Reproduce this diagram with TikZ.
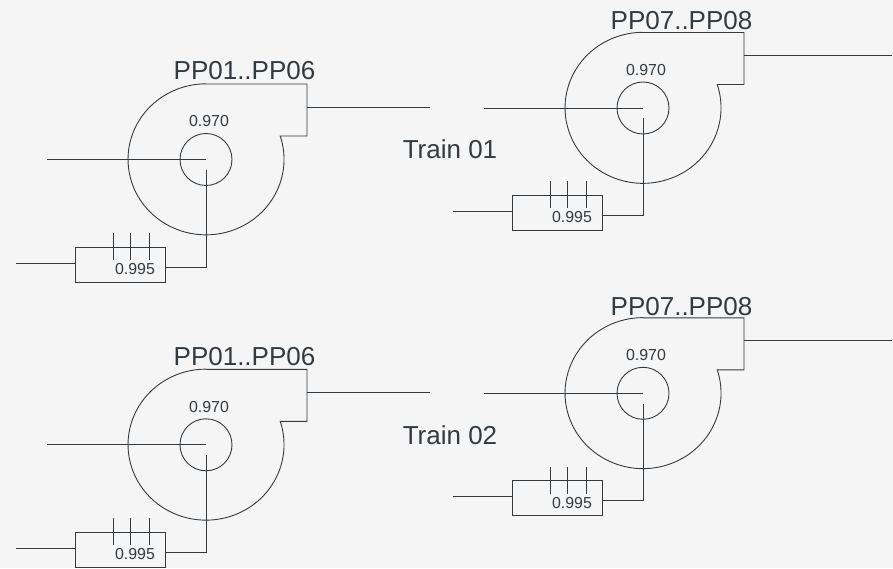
\documentclass[tikz,border=0pt]{standalone}
\usepackage{fontspec}
\setmainfont{Liberation Sans}
\usepackage{xcolor}
\definecolor{paper}{HTML}{F5F5F5}
\definecolor{ink}{HTML}{333A40}
\tikzset{
    pipe/.style={draw=ink, line width=.9pt},
    eye/.style={circle, draw=ink, line width=.9pt, minimum size=52pt, inner sep=0pt},
    unitbox/.style={rectangle, draw=ink, line width=.9pt, minimum width=90pt, minimum height=35pt, inner sep=0pt},
    tagtext/.style={text=ink, font=\fontsize{26}{28}\selectfont, inner sep=0pt},
    valtext/.style={text=ink, font=\fontsize{15.9}{18}\selectfont, inner sep=0pt},
}

\begin{document}
\begin{tikzpicture}[x=1pt, y=1pt]
            \fill[paper] (0,0) rectangle (893,568);
            \useasboundingbox (0,0) rectangle (893,568);
            % train 01, left
            \node[eye] (hubA) at (206,408.5) {};
            \node[unitbox] (boxA) at (120,303.5) {};
            \node[tagtext] (tagA) at (244.5,497) {PP01..PP06};
            \node[valtext] (effA) at (209,447) {0.970};
            \node[valtext] (sealA) at (135,299) {0.995};
            \draw[pipe] (hubA.center) ++(0,75.5) -- ++(101,0) -- ++(0,-52) -- ++(-26.8,0) arc [start angle=18, end angle=-270, x radius=78, y radius=75.5];
            \draw[pipe] (hubA.center) -- ++(-159,0);
            \draw[pipe] (hubA.center) ++(101,52.5) -- ++(123,0);
            \draw[pipe] (boxA.east) ++(0,-2.5) -- ++(41,0) -- ++(0,97);
            \draw[pipe] (boxA.west) ++(0,1.5) -- ++(-59,0);
            \draw[pipe] (boxA.center) ++(-7,31.5) -- ++(0,-27) ++(17.5,27) -- ++(0,-27) ++(18.5,27) -- ++(0,-27);
            % train 01, right
            \node[eye] (hubB) at (643,460) {};
            \node[unitbox] (boxB) at (557,355) {};
            \node[tagtext] (tagB) at (681.5,547) {PP07..PP08};
            \node[valtext] (effB) at (646,498) {0.970};
            \node[valtext] (sealB) at (572,350.5) {0.995};
            \draw[pipe] (hubB.center) ++(0,75.5) -- ++(101,0) -- ++(0,-52) -- ++(-26.8,0) arc [start angle=18, end angle=-270, x radius=78, y radius=75.5];
            \draw[pipe] (hubB.center) -- ++(-159,0);
            \draw[pipe] (hubB.center) ++(101,52.5) -- ++(148,0);
            \draw[pipe] (boxB.east) ++(0,-2.5) -- ++(41,0) -- ++(0,97);
            \draw[pipe] (boxB.west) ++(0,1.5) -- ++(-59,0);
            \draw[pipe] (boxB.center) ++(-7,31.5) -- ++(0,-27) ++(17.5,27) -- ++(0,-27) ++(18.5,27) -- ++(0,-27);
            % train 02, left
            \node[eye] (hubC) at (206,123.2) {};
            \node[unitbox] (boxC) at (120,18.2) {};
            \node[tagtext] (tagC) at (244.5,211) {PP01..PP06};
            \node[valtext] (effC) at (209,161) {0.970};
            \node[valtext] (sealC) at (135,13.7) {0.995};
            \draw[pipe] (hubC.center) ++(0,75.5) -- ++(101,0) -- ++(0,-52) -- ++(-26.8,0) arc [start angle=18, end angle=-270, x radius=78, y radius=75.5];
            \draw[pipe] (hubC.center) -- ++(-159,0);
            \draw[pipe] (hubC.center) ++(101,52.5) -- ++(123,0);
            \draw[pipe] (boxC.east) ++(0,-2.5) -- ++(41,0) -- ++(0,97);
            \draw[pipe] (boxC.west) ++(0,1.5) -- ++(-59,0);
            \draw[pipe] (boxC.center) ++(-7,31.5) -- ++(0,-27) ++(17.5,27) -- ++(0,-27) ++(18.5,27) -- ++(0,-27);
            % train 02, right
            \node[eye] (hubD) at (643,174.7) {};
            \node[unitbox] (boxD) at (557,69.7) {};
            \node[tagtext] (tagD) at (681.5,261.5) {PP07..PP08};
            \node[valtext] (effD) at (646,212.7) {0.970};
            \node[valtext] (sealD) at (572,65.2) {0.995};
            \draw[pipe] (hubD.center) ++(0,75.5) -- ++(101,0) -- ++(0,-52) -- ++(-26.8,0) arc [start angle=18, end angle=-270, x radius=78, y radius=75.5];
            \draw[pipe] (hubD.center) -- ++(-159,0);
            \draw[pipe] (hubD.center) ++(101,52.5) -- ++(148,0);
            \draw[pipe] (boxD.east) ++(0,-2.5) -- ++(41,0) -- ++(0,97);
            \draw[pipe] (boxD.west) ++(0,1.5) -- ++(-59,0);
            \draw[pipe] (boxD.center) ++(-7,31.5) -- ++(0,-27) ++(17.5,27) -- ++(0,-27) ++(18.5,27) -- ++(0,-27);
            % train names
            \node[tagtext] (trainA) at (450,418.5) {Train 01};
            \node[tagtext] (trainB) at (450,132.5) {Train 02};
        \end{tikzpicture}
\end{document}
